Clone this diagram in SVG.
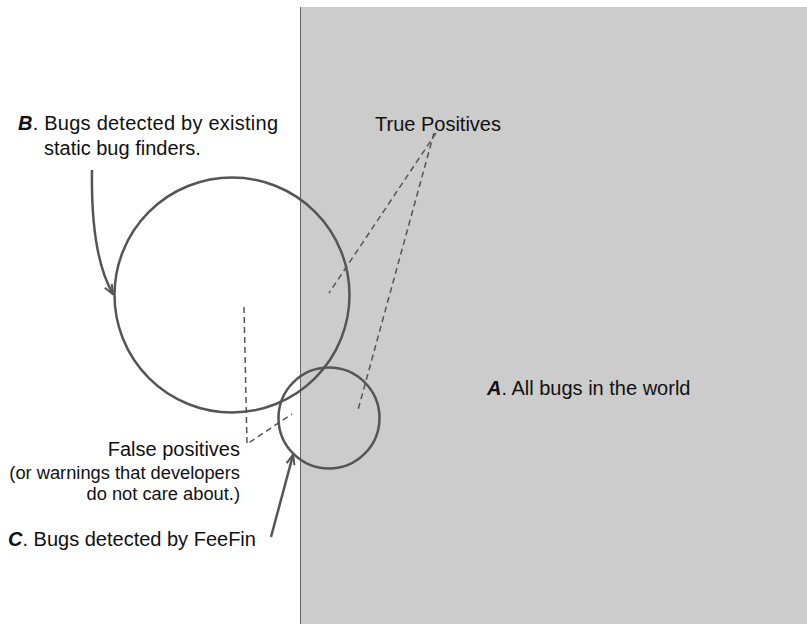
<svg xmlns="http://www.w3.org/2000/svg" width="807" height="624" viewBox="0 0 807 624">
<style>
.t{font-family:"Liberation Sans",Arial,sans-serif;font-size:20px;fill:#111}
.s{font-size:18.3px}
.ring{fill:none;stroke:#555;stroke-width:2.5}
.dash{fill:none;stroke:#555;stroke-width:1.5;stroke-dasharray:6,4}
.arr{fill:none;stroke:#555;stroke-width:2.5;marker-end:url(#ah)}
</style>
<defs>
<marker id="ah" viewBox="0 0 12 10" refX="10.5" refY="5" markerWidth="12" markerHeight="10" markerUnits="userSpaceOnUse" orient="auto">
<path d="M1,1 L11,5 L1,9" fill="none" stroke="#555" stroke-width="2"/>
</marker>
</defs>
<g id="world">
<rect x="300.5" y="7" width="507" height="618" fill="#cccccc"/>
<line x1="300.5" y1="7" x2="300.5" y2="624" stroke="#666" stroke-width="1"/>
<text class="t" x="487" y="395"><tspan font-weight="bold" font-style="italic">A</tspan>. All bugs in the world</text>
</g>
<g id="connectors">
<path class="dash" d="M436,133 L329,293"/>
<path class="dash" d="M434,133 L358,410"/>
<path class="dash" d="M244,307 L247,444 L292,414"/>
<path class="arr" d="M92,170 C91,232 99,270 113,294"/>
<path class="arr" d="M271,537 L293,455"/>
</g>
<g id="nodeB">
<circle class="ring" cx="232" cy="295" r="117.5"/>
<text class="t" x="18" y="130" textLength="260"><tspan font-weight="bold" font-style="italic">B</tspan>. Bugs detected by existing</text>
<text class="t" x="44" y="155">static bug finders.</text>
</g>
<g id="nodeC">
<circle class="ring" cx="329" cy="418" r="50.5"/>
<text class="t" x="8" y="546"><tspan font-weight="bold" font-style="italic">C</tspan>. Bugs detected by FeeFin</text>
</g>
<g id="labelTP">
<text class="t" x="375" y="131">True Positives</text>
</g>
<g id="labelFP">
<text class="t" x="240" y="456" text-anchor="end">False positives</text>
<text class="t s" x="240" y="479" text-anchor="end">(or warnings that developers</text>
<text class="t s" x="240" y="500" text-anchor="end">do not care about.)</text>
</g>
</svg>
